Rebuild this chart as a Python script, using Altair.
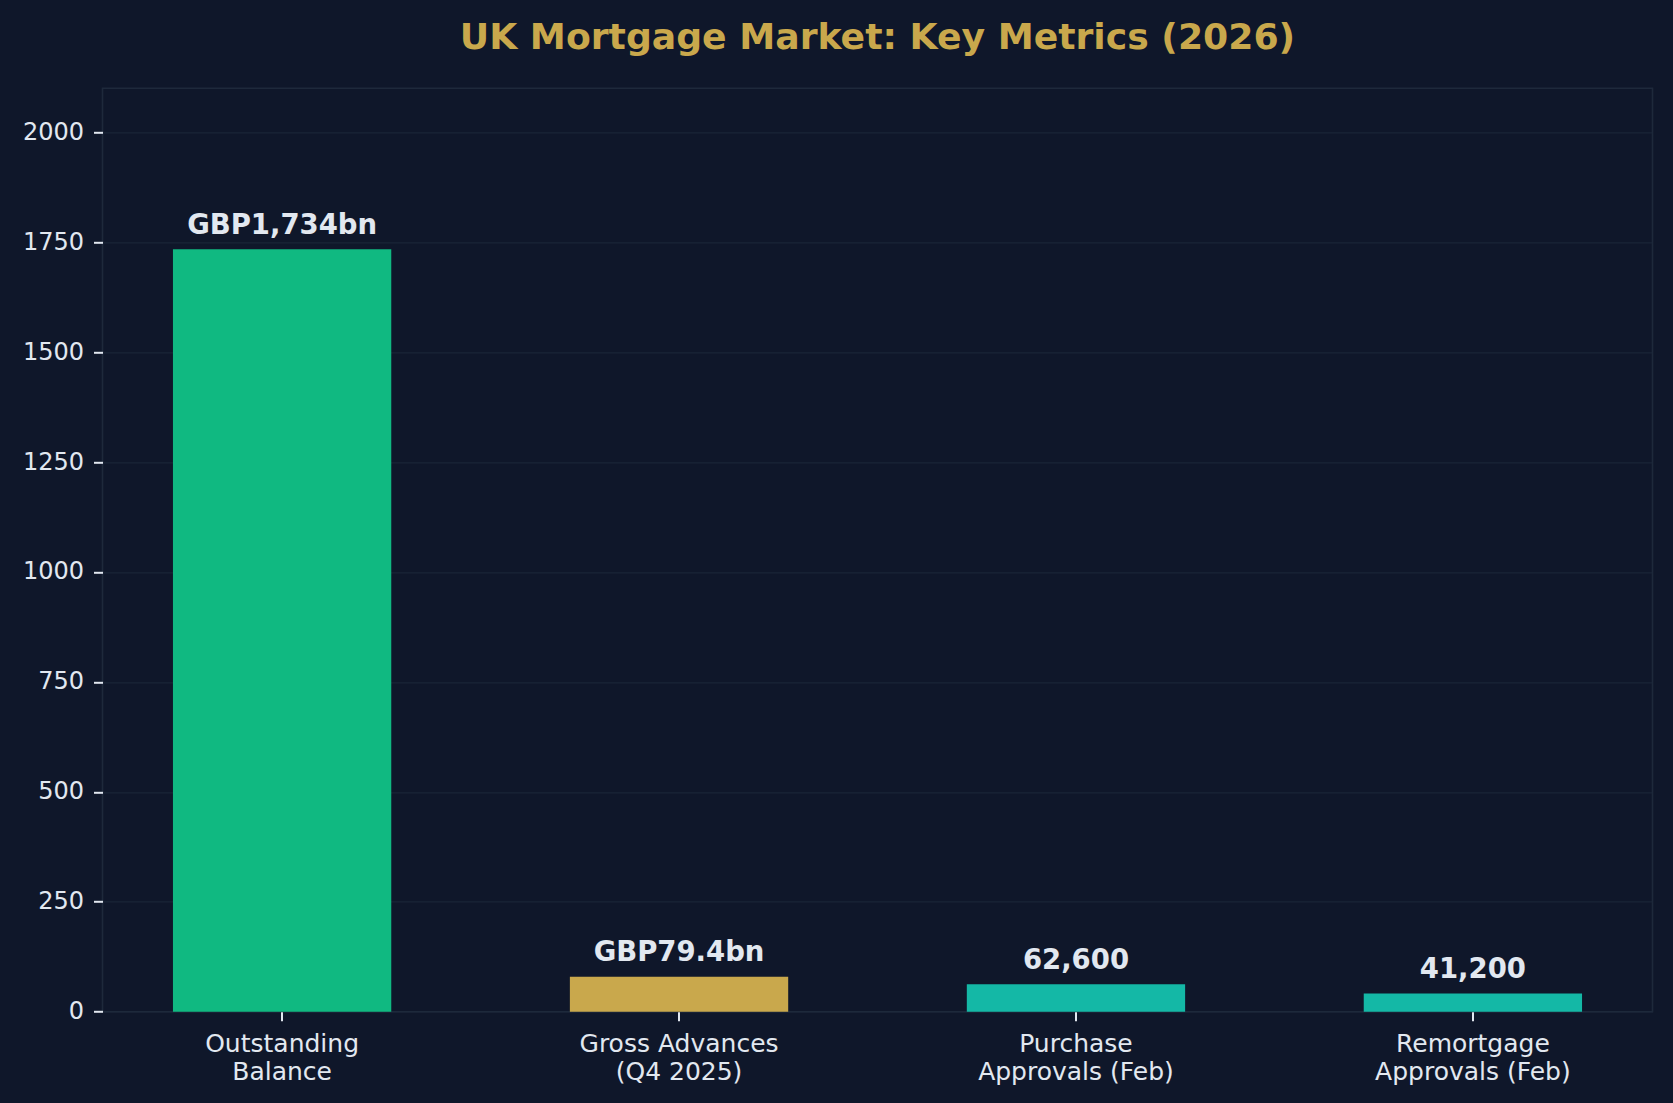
import altair as alt
import pandas as pd

# Key metrics of the UK mortgage market
metrics = [
    "Outstanding\nBalance",
    "Gross Advances\n(Q4 2025)",
    "Purchase\nApprovals (Feb)",
    "Remortgage\nApprovals (Feb)",
]
# GBP bn for the first two metrics, thousands of approvals for the last two
values = [1734, 79.4, 62.6, 41.2]
units = ["bn", "bn", "k", "k"]
bar_colors = ["#10B981", "#C9A84C", "#14B8A6", "#14B8A6"]


def value_label(v, unit):
    if unit == "bn":
        return f"GBP{v:,g}bn"
    return f"{v * 1000:,.0f}"


df = pd.DataFrame({
    "metric": metrics,
    "value": values,
    "label": [value_label(v, u) for v, u in zip(values, units)],
})

BG = "#0F172A"
FRAME = "#1E293B"
TEXT = "#E2E8F0"
GOLD = "#C9A84C"
FONT = "DejaVu Sans"

x_enc = alt.X(
    "metric:N",
    sort=metrics,
    title=None,
    scale=alt.Scale(paddingInner=0.45, paddingOuter=0.1775),
    axis=alt.Axis(
        labelAngle=0,
        labelExpr="split(datum.label, '\\n')",
        labelFontSize=25,
        labelLineHeight=27.5,
        labelPadding=11,
        labelLimit=0,
        tickSize=9,
        tickWidth=2,
        tickColor=TEXT,
        domain=False,
        grid=False,
    ),
)

y_enc = alt.Y(
    "value:Q",
    title=None,
    scale=alt.Scale(domain=[0, 2100], nice=False),
    axis=alt.Axis(
        values=list(range(0, 2001, 250)),
        format="d",
        labelFontSize=24,
        tickSize=9,
        tickWidth=2,
        tickColor=TEXT,
        labelPadding=10,
        domain=False,
        grid=True,
        gridColor=FRAME,
        gridOpacity=0.75,
        gridWidth=1.2,
    ),
)

bars = alt.Chart(df).mark_bar().encode(
    x=x_enc,
    y=y_enc,
    color=alt.Color(
        "metric:N",
        scale=alt.Scale(domain=metrics, range=bar_colors),
        legend=None,
    ),
)

labels = alt.Chart(df).mark_text(
    font=FONT,
    fontSize=27.5,
    fontWeight="bold",
    color=TEXT,
    baseline="alphabetic",
    align="center",
    dy=-15.5,
).encode(
    x=alt.X("metric:N", sort=metrics),
    y="value:Q",
    text="label:N",
)

chart = (
    alt.layer(bars, labels)
    .properties(
        width=1550,
        height=923.4,
        background=BG,
        autosize=alt.AutoSizeParams(type="none"),
        padding={"left": 102.5, "top": 88.3, "right": 20.5, "bottom": 91.3},
        title=alt.TitleParams(
            "UK Mortgage Market: Key Metrics (2026)",
            font=FONT,
            fontSize=36.2,
            fontWeight="bold",
            color=GOLD,
            anchor="middle",
            baseline="alphabetic",
            offset=3,
        ),
    )
    .configure_view(fill=BG, stroke=FRAME, strokeWidth=1.6)
    .configure_axis(labelFont=FONT, labelColor=TEXT)
)

chart.save("out.html", embed_options={"renderer": "svg", "actions": False})
